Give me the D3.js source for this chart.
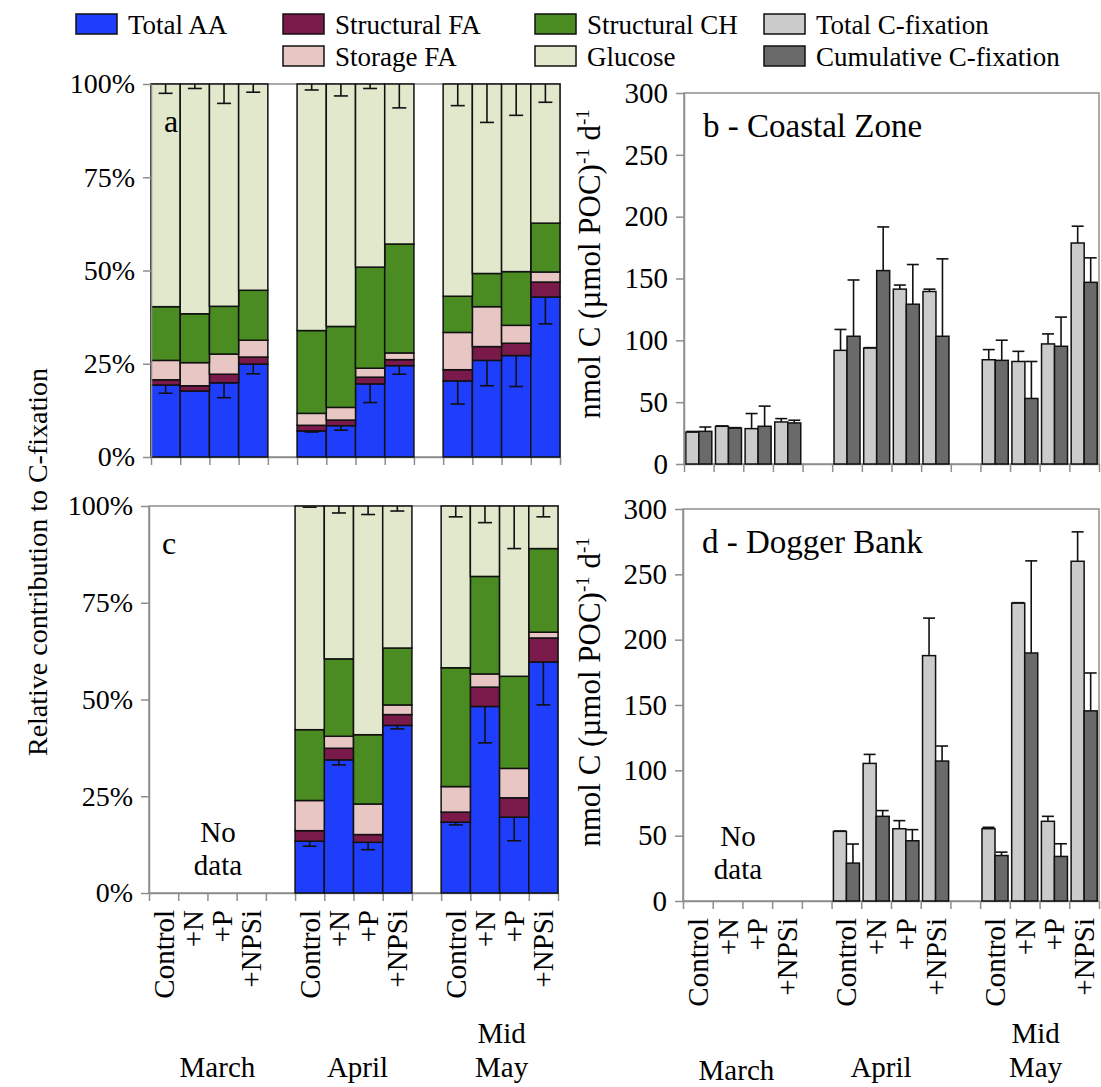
<!DOCTYPE html>
<html>
<head>
<meta charset="utf-8">
<script src="https://cdn.jsdelivr.net/npm/d3@7"></script>
<style>
  body { margin: 0; background: #fff; }
  svg { display: block; }
  svg text { font-family: "Liberation Serif", "DejaVu Serif", serif !important; fill: #000; }
</style>
</head>
<body>
<svg id="fig" width="1101" height="1087" font-family="Liberation Serif, DejaVu Serif, serif"></svg>
<script>
// ---- categories ----
const months = ["March", "April", "Mid May"];
const treatments = ["Control", "+N", "+P", "+NPSi"];
const components = ["Total AA", "Structural FA", "Storage FA", "Structural CH", "Glucose"];
const fixSeries = ["Total C-fixation", "Cumulative C-fixation"];
const pctTicks = [0, 0.25, 0.5, 0.75, 1];
const rateTicks = [0, 50, 100, 150, 200, 250, 300];

// ---- a: Coastal Zone, relative contribution (%), order March C,N,P,NPSi | April | Mid May ----
const aTotalAA      = [19.3, 17.7, 19.9, 24.9,  7.0,  8.4, 19.6, 24.5, 20.4, 25.9, 27.2, 42.9];
const aStructFA     = [ 1.4,  1.4,  2.3,  1.9,  1.5,  1.5,  1.8,  1.6,  3.0,  3.7,  3.3,  4.0];
const aStorageFA    = [ 5.2,  6.2,  5.4,  4.5,  3.2,  3.4,  2.4,  1.8, 10.0, 10.7,  4.8,  2.7];
const aStructCH     = [14.4, 13.1, 12.8, 13.4, 22.2, 21.7, 27.1, 29.2,  9.7,  8.9, 14.4, 13.1];
const aGlucose      = [59.7, 61.6, 59.6, 55.3, 66.1, 65.0, 49.1, 42.9, 56.9, 50.8, 50.3, 37.3];
const aTotalAAErr   = [ 2.2,  0.0,  4.0,  2.6,  0.3,  1.2,  5.0,  2.3,  6.2,  6.8,  8.3,  7.2];
const aGlucoseErr   = [ 2.5,  1.2,  5.2,  2.2,  1.6,  3.2,  1.2,  6.4,  5.8, 10.3,  8.4,  4.9];

// ---- c: Dogger Bank, relative contribution (%) ----
const cTotalAA      = [null, null, null, null, 13.4, 34.4, 13.1, 43.3, 18.3, 48.2, 19.6, 59.7];
const cStructFA     = [null, null, null, null,  2.7,  3.0,  2.0,  2.8,  2.6,  5.0,  5.0,  6.2];
const cStorageFA    = [null, null, null, null,  7.8,  3.1,  7.9,  2.5,  6.6,  3.4,  7.6,  1.5];
const cStructCH     = [null, null, null, null, 18.3, 20.0, 17.9, 14.7, 30.7, 25.2, 23.8, 21.6];
const cGlucose      = [null, null, null, null, 57.8, 39.5, 59.1, 36.7, 41.8, 18.2, 44.0, 11.0];
const cTotalAAErr   = [null, null, null, null,  1.3,  1.3,  1.9,  0.9,  0.7,  9.4,  6.1, 11.1];
const cGlucoseErr   = [null, null, null, null,  0.3,  1.8,  2.2,  1.3,  2.8,  4.3, 11.0,  2.8];

// ---- b: Coastal Zone, C-fixation nmol C (umol POC)-1 d-1 ----
const bTotalFix     = [25.8, 30.5, 28.6, 34.0,  91.9,  93.8, 141.4, 139.5,  84.3,  82.9,  97.1, 178.7];
const bTotalFixErr  = [ 0.5,  0.3, 12.2,  2.7,  16.9,   0.3,   3.3,   1.9,   8.2,   8.2,   8.1,  13.6];
const bCumFix       = [26.4, 29.1, 30.5, 33.2, 103.3, 156.4, 129.2, 103.3,  83.8,  53.0,  95.2, 146.9];
const bCumFixErr    = [ 3.5,  0.3, 16.3,  2.2,  45.5,  35.3,  32.1,  62.6,  16.3,  29.9,  23.6,  19.8];

// ---- d: Dogger Bank, C-fixation ----
const dTotalFix     = [null, null, null, null,  53.3, 105.3,  55.3, 187.8,  55.3, 228.0,  61.0, 260.0];
const dTotalFixErr  = [null, null, null, null,   0.3,   6.9,   6.2,  28.7,   1.1,   0.3,   3.8,  22.5];
const dCumFix       = [null, null, null, null,  29.0,  64.8,  46.1, 107.1,  34.8, 189.8,  34.1, 145.5];
const dCumFixErr    = [null, null, null, null,  14.6,   4.4,   8.5,  11.5,   2.6,  70.5,   9.7,  29.0];

// ---- styling ----
const compColors = ["#1f3efb", "#7a1a4a", "#e8c6c4", "#4a8b22", "#e2e8cc"];
const fixColors = ["#cbcbcb", "#6a6a6a"];
const axisGray = "#8e8e8e";
const serif = "Liberation Serif, DejaVu Serif, serif";

const svg = d3.select("#fig");

// slots: 4 treatments per month with an empty slot between months
const dataKeys = [];
const slotKeys = [];
months.forEach((m, i) => {
  treatments.forEach(t => { dataKeys.push(m + "|" + t); slotKeys.push(m + "|" + t); });
  if (i < months.length - 1) slotKeys.push("gap" + i);
});

function drawFrameAndX(g, x0, x1, y0, y1) {
  g.append("rect")
    .attr("x", x0).attr("y", y0).attr("width", x1 - x0).attr("height", y1 - y0)
    .attr("fill", "none").attr("stroke", axisGray).attr("stroke-width", 1.5);
  const xl = d3.scaleLinear().domain([0, slotKeys.length]).range([x0, x1]);
  const ax = g.append("g").attr("transform", `translate(0,${y1})`)
    .call(d3.axisBottom(xl).tickValues(d3.range(slotKeys.length + 1)).tickSize(8).tickSizeOuter(0).tickFormat(""));
  ax.select(".domain").attr("stroke", axisGray).attr("stroke-width", 1.5);
  ax.selectAll(".tick line").attr("stroke", axisGray).attr("stroke-width", 1.5);
}

function styleYAxis(ax, fs) {
  ax.attr("font-family", serif);
  ax.select(".domain").attr("stroke", axisGray).attr("stroke-width", 1.5);
  ax.selectAll(".tick line").attr("stroke", axisGray).attr("stroke-width", 1.5);
  ax.selectAll(".tick text").attr("font-size", fs).attr("fill", "#000");
}

function categoryLabels(g, x, labTop, monthBase, monthShift) {
  dataKeys.forEach(k => {
    const t = k.split("|")[1];
    g.append("text")
      .attr("transform", `translate(${x(k) + x.bandwidth() / 2},${labTop}) rotate(-90)`)
      .attr("text-anchor", "end").attr("dominant-baseline", "central")
      .attr("font-size", 29).text(t);
  });
  months.forEach((m, i) => {
    const ks = treatments.map(t => m + "|" + t);
    const cx = (x(ks[0]) + x(ks[3]) + x.bandwidth()) / 2 + monthShift[i][0];
    const words = m.split(" ");
    const base = monthBase + monthShift[i][1];
    words.forEach((w, j) => {
      g.append("text").attr("x", cx).attr("y", base - (words.length - 1 - j) * 34)
        .attr("text-anchor", "middle").attr("font-size", 29).text(w);
    });
  });
}

function compositionPanel(cfg) {
  const { x0, x1, y0, y1, series, aaErr, glcErr, label } = cfg;
  const g = svg.append("g");
  const x = d3.scaleBand().domain(slotKeys).range([x0, x1]).padding(0);
  const y = d3.scaleLinear().domain([0, 1]).range([y1, y0]);

  const rows = [];
  dataKeys.forEach((k, i) => {
    if (series[0][i] == null) return;
    const r = { key: k, idx: i };
    components.forEach((c, j) => { r[c] = series[j][i] / 100; });
    rows.push(r);
  });
  const stacked = d3.stack().keys(components)(rows);

  drawFrameAndX(g, x0, x1, y0, y1);

  stacked.forEach((layer, j) => {
    g.append("g").selectAll("rect").data(layer).join("rect")
      .attr("x", d => x(d.data.key))
      .attr("y", d => y(d[1]))
      .attr("width", x.bandwidth())
      .attr("height", d => y(d[0]) - y(d[1]))
      .attr("fill", compColors[j])
      .attr("stroke", "#111").attr("stroke-width", 1.5);
  });

  // error bars: Total AA (downwards from its top) and Glucose (downwards from 100%)
  const eb = g.append("g").attr("stroke", "#111").attr("stroke-width", 1.6);
  const cap = 7;
  rows.forEach(r => {
    const cx = x(r.key) + x.bandwidth() / 2;
    const aa = r["Total AA"];
    const eA = aaErr[r.idx] / 100;
    if (eA > 0) {
      eb.append("line").attr("x1", cx).attr("x2", cx).attr("y1", y(aa)).attr("y2", y(aa - eA));
      eb.append("line").attr("x1", cx - cap).attr("x2", cx + cap).attr("y1", y(aa - eA)).attr("y2", y(aa - eA));
    }
    const eG = glcErr[r.idx] / 100;
    eb.append("line").attr("x1", cx).attr("x2", cx).attr("y1", y(1)).attr("y2", y(1 - eG));
    eb.append("line").attr("x1", cx - cap).attr("x2", cx + cap).attr("y1", y(1 - eG)).attr("y2", y(1 - eG));
  });

  const ay = g.append("g").attr("transform", `translate(${x0},0)`)
    .call(d3.axisLeft(y).tickValues(pctTicks).tickFormat(d3.format(".0%")).tickSize(8).tickSizeOuter(0).tickPadding(8));
  styleYAxis(ay, 28);

  g.append("text").attr("x", x0 + 13).attr("y", y0 + 48).attr("font-size", 32).text(label);
  return { g, x, y };
}

function fixationPanel(cfg) {
  const { x0, x1, y0, y1, vals, errs, label } = cfg;
  const g = svg.append("g");
  const x = d3.scaleBand().domain(slotKeys).range([x0, x1]).padding(0);
  const sub = d3.scaleBand().domain(fixSeries).range([0, x.bandwidth()]).paddingOuter(0.14).paddingInner(0);
  const y = d3.scaleLinear().domain([0, 300]).range([y1, y0]);

  drawFrameAndX(g, x0, x1, y0, y1);

  const rows = [];
  dataKeys.forEach((k, i) => {
    fixSeries.forEach((s, j) => {
      if (vals[j][i] == null) return;
      rows.push({ key: k, s, j, v: vals[j][i], e: errs[j][i] });
    });
  });

  g.append("g").selectAll("rect").data(rows).join("rect")
    .attr("x", d => x(d.key) + sub(d.s))
    .attr("y", d => y(d.v))
    .attr("width", sub.bandwidth())
    .attr("height", d => y(0) - y(d.v))
    .attr("fill", d => fixColors[d.j])
    .attr("stroke", "#111").attr("stroke-width", 1.5);

  const eb = g.append("g").attr("stroke", "#111").attr("stroke-width", 1.6);
  const cap = 6;
  rows.forEach(d => {
    const cx = x(d.key) + sub(d.s) + sub.bandwidth() / 2;
    eb.append("line").attr("x1", cx).attr("x2", cx).attr("y1", y(d.v)).attr("y2", y(d.v + d.e));
    eb.append("line").attr("x1", cx - cap).attr("x2", cx + cap).attr("y1", y(d.v + d.e)).attr("y2", y(d.v + d.e));
  });

  const ay = g.append("g").attr("transform", `translate(${x0},0)`)
    .call(d3.axisLeft(y).tickValues(rateTicks).tickFormat(d3.format("d")).tickSize(8).tickSizeOuter(0).tickPadding(8));
  styleYAxis(ay, 29);

  g.append("text").attr("x", x0 + 19).attr("y", y0 + 44).attr("font-size", 33).text(label);
  return { g, x, y };
}

// ---- panels ----
const pa = compositionPanel({
  x0: 151, x1: 560, y0: 84, y1: 457,
  series: [aTotalAA, aStructFA, aStorageFA, aStructCH, aGlucose],
  aaErr: aTotalAAErr, glcErr: aGlucoseErr, label: "a"
});
const pc = compositionPanel({
  x0: 149, x1: 558, y0: 506, y1: 893,
  series: [cTotalAA, cStructFA, cStorageFA, cStructCH, cGlucose],
  aaErr: cTotalAAErr, glcErr: cGlucoseErr, label: "c"
});
const pb = fixationPanel({
  x0: 684, x1: 1099, y0: 93, y1: 464,
  vals: [bTotalFix, bCumFix], errs: [bTotalFixErr, bCumFixErr], label: "b - Coastal Zone"
});
const pd = fixationPanel({
  x0: 683, x1: 1099, y0: 509, y1: 901,
  vals: [dTotalFix, dCumFix], errs: [dTotalFixErr, dCumFixErr], label: "d - Dogger Bank"
});

// "No data" notes for March at Dogger Bank
[[pc, 218, 842], [pd, 738, 846]].forEach(([p, cx, by]) => {
  p.g.append("text").attr("x", cx).attr("y", by).attr("text-anchor", "middle").attr("font-size", 29).text("No");
  p.g.append("text").attr("x", cx).attr("y", by + 33).attr("text-anchor", "middle").attr("font-size", 29).text("data");
});

// category and month labels under the bottom panels
categoryLabels(pc.g, pc.x, 910, 1077, [[10, 0], [4, 0], [2, 0]]);
categoryLabels(pd.g, pd.x, 918, 1077, [[-6, 3], [-10, 0], [-4, 0]]);

// ---- axis titles ----
svg.append("text")
  .attr("transform", "translate(37,562) rotate(-90)")
  .attr("text-anchor", "middle").attr("dominant-baseline", "central")
  .attr("font-size", 28).text("Relative contribution to C-fixation");

[[pb, 264], [pd, 692]].forEach(([p, cy]) => {
  const t = svg.append("text")
    .attr("transform", `translate(600,${cy}) rotate(-90)`)
    .attr("text-anchor", "middle").attr("font-size", 31);
  t.append("tspan").text("nmol C (\u00b5mol POC)");
  t.append("tspan").attr("font-size", 19).attr("dy", -11).text("-1");
  t.append("tspan").attr("dy", 11).text(" d");
  t.append("tspan").attr("font-size", 19).attr("dy", -11).text("-1");
});

// ---- legend ----
const legendEntries = components.map((c, i) => ({ name: c, color: compColors[i] }))
  .concat(fixSeries.map((s, i) => ({ name: s, color: fixColors[i] })));
// column / row placement of each entry
const legendPlace = [[0, 0], [1, 0], [1, 1], [2, 0], [2, 1], [3, 0], [3, 1]];
const colSwatchX = [76, 283, 535, 764];
const rowY = [14, 46];
const lg = svg.append("g");
legendEntries.forEach((e, i) => {
  const [c, r] = legendPlace[i];
  lg.append("rect").attr("x", colSwatchX[c]).attr("y", rowY[r]).attr("width", 41).attr("height", 20)
    .attr("fill", e.color).attr("stroke", "#111").attr("stroke-width", 1.5);
  lg.append("text").attr("x", colSwatchX[c] + 52).attr("y", rowY[r] + 20)
    .attr("font-size", 27).text(e.name);
});
</script>
</body>
</html>
